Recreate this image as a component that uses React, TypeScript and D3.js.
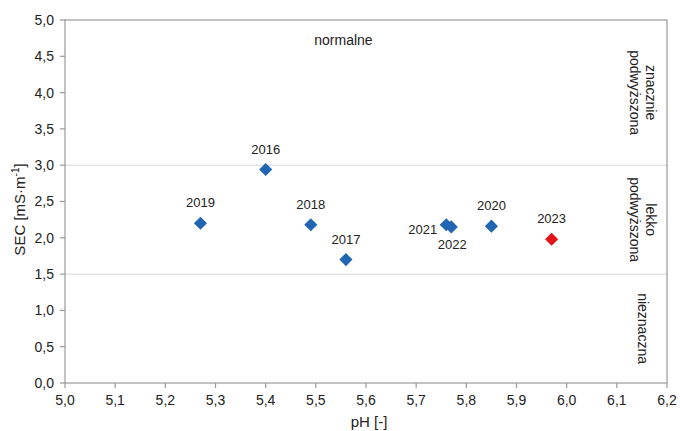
import React from "react";
import * as d3 from "d3";

// pH and specific electrical conductivity per year
const years = ["2016", "2017", "2018", "2019", "2020", "2021", "2022", "2023"];
const phValues = [5.4, 5.56, 5.49, 5.27, 5.85, 5.76, 5.77, 5.97];
const secValues = [2.94, 1.7, 2.18, 2.2, 2.16, 2.18, 2.15, 1.98];
const labelSide = ["top", "top", "top", "top", "top", "left", "bottom", "top"];
const highlightYear = "2023";

const xTicks = [5.0, 5.1, 5.2, 5.3, 5.4, 5.5, 5.6, 5.7, 5.8, 5.9, 6.0, 6.1, 6.2];
const yTicks = [0, 0.5, 1, 1.5, 2, 2.5, 3, 3.5, 4, 4.5, 5];

// class thresholds on SEC axis
const thresholds = [1.5, 3.0];
const zones = [
  { lines: ["znacznie", "podwyższona"], from: 3.0, to: 5.0 },
  { lines: ["lekko", "podwyższona"], from: 1.5, to: 3.0 },
  { lines: ["nieznaczna"], from: 0, to: 1.5 },
];

const W = 680;
const H = 431;
const M = { left: 65, right: 13, top: 20, bottom: 48 };

const fmt = (v: number) => v.toFixed(1).replace(".", ",");

export default function App() {
  const x = d3.scaleLinear().domain([5.0, 6.2]).range([M.left, W - M.right]);
  const y = d3.scaleLinear().domain([0, 5]).range([H - M.bottom, M.top]);
  const diamond = d3.symbol().type(d3.symbolDiamond2).size(110)();
  const font = "'Liberation Sans', Arial, sans-serif";
  const textColor = "#222";
  const axisColor = "#9a9a9a";
  const x0 = M.left;
  const x1 = W - M.right;
  const y0 = H - M.bottom;
  const y1 = M.top;

  return (
    <svg
      width={W}
      height={H}
      style={{ position: "absolute", left: 0, top: 0, background: "#fff" }}
      fontFamily={font}
    >
      {/* threshold lines */}
      {thresholds.map((t) => (
        <line key={t} x1={x0} x2={x1} y1={y(t)} y2={y(t)} stroke="#d6d6d6" strokeWidth={1} />
      ))}

      {/* frame */}
      <rect x={x0} y={y1} width={x1 - x0} height={y0 - y1} fill="none" stroke={axisColor} strokeWidth={1.2} />

      {/* y axis ticks and labels */}
      {yTicks.map((t) => (
        <g key={t}>
          <line x1={x0 - 5} x2={x0} y1={y(t)} y2={y(t)} stroke={axisColor} strokeWidth={1.2} />
          <text x={x0 - 11} y={y(t)} dy="0.35em" textAnchor="end" fontSize={14} fill={textColor}>
            {fmt(t)}
          </text>
        </g>
      ))}

      {/* x axis ticks and labels */}
      {xTicks.map((t) => (
        <g key={t}>
          <line x1={x(t)} x2={x(t)} y1={y0} y2={y0 + 5} stroke={axisColor} strokeWidth={1.2} />
          <text x={x(t)} y={y0 + 22} textAnchor="middle" fontSize={14} fill={textColor}>
            {fmt(t)}
          </text>
        </g>
      ))}

      {/* axis titles */}
      <text x={(x0 + x1) / 2 + 3} y={H - 4} textAnchor="middle" fontSize={15} fill={textColor}>
        pH [-]
      </text>
      <text
        transform={`translate(25,${(y0 + y1) / 2 + 8}) rotate(-90)`}
        textAnchor="middle"
        fontSize={15}
        fill={textColor}
      >
        SEC [mS·m
        <tspan dy={-6} fontSize={10}>-1</tspan>
        <tspan dy={6}>]</tspan>
      </text>

      {/* zone labels */}
      <text x={x(5.555)} y={y(4.66)} textAnchor="middle" fontSize={14} fill={textColor}>
        normalne
      </text>
      {zones.map((z) => {
        const cy = (y(z.from) + y(z.to)) / 2;
        const n = z.lines.length;
        return (
          <text
            key={z.lines.join(" ")}
            transform={`translate(${x1 - 24},${cy}) rotate(90)`}
            textAnchor="middle"
            fontSize={14}
            fill={textColor}
          >
            {z.lines.map((l, i) => (
              <tspan key={l} x={0} y={(i - (n - 1) / 2) * 16 + 5}>
                {l}
              </tspan>
            ))}
          </text>
        );
      })}

      {/* points */}
      {years.map((yr, i) => {
        const px = x(phValues[i]);
        const py = y(secValues[i]);
        const color = yr === highlightYear ? "#e3151a" : "#2166b3";
        const side = labelSide[i];
        let lx = px;
        let ly = py - 16;
        let anchor = "middle";
        if (side === "left") {
          lx = px - 9;
          ly = py + 9;
          anchor = "end";
        } else if (side === "bottom") {
          lx = px + 1;
          ly = py + 22;
        }
        return (
          <g key={yr}>
            <path d={diamond ?? ""} transform={`translate(${px},${py})`} fill={color} />
            <text x={lx} y={ly} textAnchor={anchor} fontSize={13} fill={textColor}>
              {yr}
            </text>
          </g>
        );
      })}
    </svg>
  );
}
